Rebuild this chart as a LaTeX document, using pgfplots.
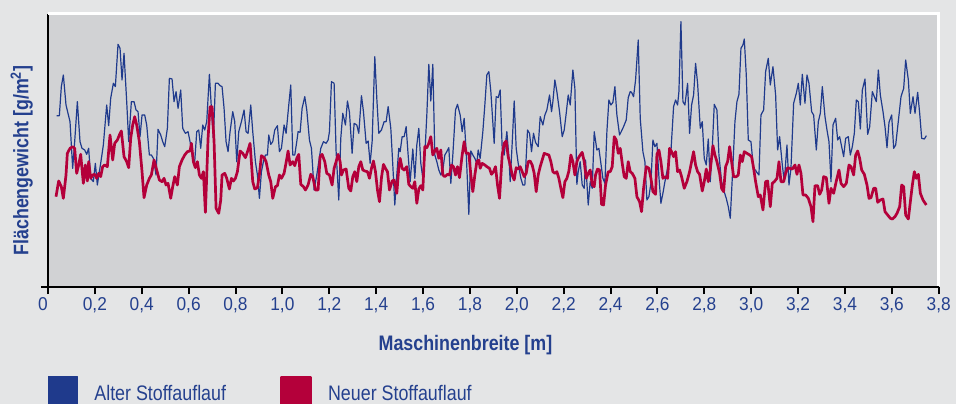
\documentclass[border=0pt]{standalone}
\usepackage{fontspec}
\setmainfont{Liberation Sans}[FakeStretch=0.85]
\newfontfamily\tickfont{Liberation Sans}[FakeStretch=0.93]
\usepackage{pgfplots}
\usepackage{pgfplotstable}
\pgfplotsset{compat=1.18}
\definecolor{bgcol}{HTML}{E4E5E6}
\definecolor{plotcol}{HTML}{D1D2D4}
\definecolor{bluecol}{HTML}{1F3A8C}
\definecolor{redcol}{HTML}{B4003A}
\definecolor{textblue}{HTML}{24408E}
% s = strip index, cx/cy = position read in the strip (3x scale)
\pgfplotstableread{
s cx cy
0 38 302
0 46 302
0 52 215
0 58 180
0 66 270
0 78 320
0 86 460
0 92 380
0 100 260
0 108 380
0 114 400
0 122 405
0 128 418
0 134 400
0 140 490
0 148 500
0 154 445
0 160 510
0 166 470
0 170 445
0 178 390
0 188 270
0 194 332
0 200 250
0 208 205
0 214 215
0 222 88
0 228 100
0 234 195
0 240 115
0 248 260
0 254 380
0 262 260
0 270 260
0 276 285
0 282 290
0 288 365
0 294 300
0 302 300
0 308 330
0 316 420
0 322 420
0 328 430
0 336 480
0 342 343
0 350 360
0 356 380
0 362 395
0 370 340
0 376 190
0 384 192
0 390 260
0 396 230
0 402 280
0 410 225
0 416 340
0 424 355
0 432 350
0 438 380
0 446 430
0 452 440
0 458 350
0 464 345
0 470 400
0 476 330
0 482 345
0 488 320
0 496 178
0 502 280
0 508 370
0 514 205
0 522 205
0 528 212
1 0 215
1 6 280
1 12 380
1 18 410
1 24 350
1 32 290
1 38 320
1 44 440
1 50 350
1 58 320
1 66 285
1 72 350
1 78 355
1 86 270
1 92 350
1 100 440
1 106 480
1 112 550
1 118 470
1 124 440
1 130 420
1 136 420
1 140 360
1 146 388
1 152 380
1 158 345
1 166 332
1 172 410
1 178 400
1 186 330
1 192 355
1 200 270
1 206 210
1 212 420
1 218 420
1 224 380
1 228 350
1 234 352
1 240 280
1 248 245
1 254 285
1 262 375
1 268 400
1 276 525
1 284 480
1 290 440
1 296 400
1 304 380
1 312 385
1 318 375
1 322 350
1 328 200
1 336 205
1 342 410
1 350 555
1 356 370
1 362 295
1 370 330
1 376 258
1 382 292
1 390 415
1 396 325
1 404 330
1 410 355
1 418 242
1 424 290
1 432 385
1 438 378
1 444 445
1 450 380
1 458 125
1 464 250
1 470 355
1 478 345
1 486 320
1 492 320
1 498 275
1 506 340
1 512 450
1 518 570
1 524 480
1 530 400
2 0 410
2 6 365
2 12 365
2 18 335
2 24 420
2 30 500
2 38 402
2 44 490
2 50 390
2 56 340
2 62 445
2 68 490
2 74 420
2 80 300
2 86 148
2 92 258
2 98 148
2 104 420
2 110 440
2 116 465
2 122 480
2 128 465
2 134 420
2 140 410
2 146 398
2 152 505
2 158 420
2 166 285
2 172 268
2 180 300
2 186 350
2 192 310
2 198 410
2 206 598
2 212 408
2 218 420
2 224 430
2 230 445
2 234 405
2 240 430
2 248 350
2 254 270
2 260 180
2 266 170
2 272 230
2 282 385
2 288 245
2 294 248
2 300 225
2 306 400
2 312 420
2 320 350
2 326 425
2 330 500
2 336 385
2 342 258
2 348 400
2 354 445
2 362 490
2 368 510
2 374 510
2 382 345
2 388 355
2 394 410
2 400 355
2 406 382
2 414 395
2 420 305
2 428 330
2 434 300
2 440 285
2 448 240
2 454 290
2 458 260
2 464 195
2 470 230
2 478 290
2 486 365
2 492 345
2 498 295
2 504 240
2 510 270
2 518 165
2 524 220
2 530 508
3 0 470
3 6 440
3 12 510
3 18 520
3 22 435
3 30 570
3 36 500
3 42 520
3 48 350
3 56 405
3 62 400
3 68 445
3 74 490
3 80 505
3 86 350
3 92 255
3 98 270
3 104 262
3 110 215
3 116 300
3 124 360
3 130 348
3 136 335
3 144 315
3 150 248
3 156 230
3 160 232
3 166 245
3 172 195
3 180 75
3 186 310
3 194 410
3 200 440
3 206 555
3 212 545
3 218 505
3 224 375
3 230 395
3 236 385
3 242 485
3 248 565
3 254 535
3 260 500
3 266 470
3 272 435
3 278 410
3 286 275
3 292 255
3 298 270
3 302 230
3 308 20
3 314 260
3 320 270
3 328 205
3 334 355
3 340 270
3 346 240
3 352 145
3 358 205
3 366 340
3 372 320
3 378 430
3 384 450
3 390 372
3 396 500
3 402 400
3 408 268
3 416 285
3 422 420
3 430 500
3 436 525
3 444 550
3 450 575
3 456 610
3 464 450
3 470 320
3 476 260
3 482 238
3 488 100
3 494 90
3 498 72
3 504 180
3 510 375
3 518 380
3 526 465
3 532 465
4 0 470
4 8 480
4 14 300
4 22 285
4 28 170
4 36 130
4 42 210
4 50 155
4 58 240
4 64 405
4 70 365
4 78 450
4 84 500
4 92 390
4 98 510
4 104 460
4 112 265
4 120 235
4 126 205
4 132 270
4 138 178
4 146 265
4 152 180
4 158 205
4 166 290
4 172 300
4 180 405
4 186 320
4 192 295
4 198 215
4 206 305
4 212 345
4 218 380
4 224 500
4 230 330
4 238 310
4 244 375
4 250 365
4 256 395
4 262 425
4 268 370
4 276 365
4 282 420
4 288 395
4 294 355
4 300 255
4 306 260
4 312 342
4 318 225
4 326 192
4 334 358
4 340 335
4 348 230
4 354 245
4 360 260
4 366 165
4 372 240
4 380 290
4 386 335
4 392 398
4 398 322
4 406 300
4 412 400
4 418 390
4 426 318
4 434 245
4 442 220
4 448 135
4 456 195
4 462 295
4 470 245
4 476 295
4 484 232
4 490 295
4 496 370
4 504 372
4 510 362
}\alt
\pgfplotstableread{
s cx cy
0 36 545
0 44 498
0 52 515
0 58 550
0 66 480
0 70 415
0 78 400
0 86 395
0 92 400
0 98 475
0 104 450
0 110 418
0 118 505
0 124 450
0 130 498
0 134 440
0 140 490
0 146 480
0 152 478
0 158 490
0 164 475
0 170 485
0 176 455
0 182 450
0 190 455
0 198 360
0 206 435
0 212 385
0 220 375
0 226 360
0 232 348
0 240 425
0 248 440
0 254 458
0 260 370
0 266 330
0 272 305
0 278 330
0 286 380
0 294 470
0 300 548
0 308 510
0 316 490
0 322 480
0 330 435
0 338 465
0 346 495
0 354 500
0 360 490
0 366 510
0 372 505
0 380 550
0 386 515
0 392 485
0 400 510
0 406 455
0 414 435
0 422 420
0 430 410
0 438 408
0 442 385
0 448 440
0 454 458
0 460 440
0 466 480
0 472 490
0 478 470
0 484 592
0 492 370
0 498 275
0 504 275
0 510 380
0 516 580
0 524 595
0 530 555
1 0 480
1 8 475
1 14 490
1 22 522
1 28 490
1 34 498
1 40 490
1 46 470
1 54 408
1 62 415
1 70 428
1 78 405
1 84 385
1 92 500
1 98 522
1 106 518
1 112 478
1 118 422
1 126 428
1 132 440
1 140 480
1 146 500
1 152 550
1 160 515
1 166 512
1 172 480
1 178 490
1 186 475
1 194 432
1 198 408
1 204 450
1 212 440
1 218 452
1 224 430
1 230 418
1 236 508
1 244 515
1 250 525
1 258 510
1 266 478
1 272 485
1 280 525
1 288 525
1 294 425
1 300 418
1 308 440
1 314 475
1 322 480
1 330 510
1 336 460
1 342 440
1 348 418
1 354 440
1 358 480
1 364 465
1 372 462
1 380 520
1 386 528
1 392 485
1 398 470
1 404 500
1 410 455
1 416 440
1 422 465
1 428 468
1 436 470
1 442 490
1 448 460
1 454 438
1 460 470
1 466 525
1 472 560
1 478 488
1 484 448
1 490 460
1 496 470
1 502 525
1 510 498
1 516 495
1 524 535
1 530 458
2 0 430
2 6 460
2 12 465
2 20 455
2 26 508
2 32 515
2 38 520
2 44 500
2 50 565
2 56 522
2 62 512
2 68 525
2 74 395
2 80 398
2 86 385
2 92 365
2 98 420
2 104 408
2 110 400
2 116 430
2 122 405
2 128 480
2 134 485
2 142 478
2 148 480
2 154 450
2 160 455
2 166 480
2 172 455
2 178 488
2 186 420
2 192 380
2 198 415
2 206 415
2 212 480
2 218 530
2 224 480
2 230 440
2 236 435
2 240 460
2 246 445
2 254 450
2 260 455
2 268 460
2 274 478
2 280 470
2 286 455
2 292 510
2 298 550
2 306 420
2 312 385
2 318 378
2 324 425
2 330 450
2 336 480
2 342 495
2 348 458
2 354 462
2 360 455
2 366 470
2 372 485
2 378 475
2 384 440
2 390 438
2 396 450
2 402 475
2 408 530
2 414 480
2 420 455
2 426 435
2 432 415
2 440 418
2 446 420
2 452 440
2 458 470
2 464 475
2 470 470
2 476 490
2 482 520
2 488 548
2 494 500
2 500 490
2 506 468
2 512 420
2 518 440
2 524 480
2 530 440
3 0 430
3 6 420
3 12 412
3 18 440
3 24 490
3 30 475
3 36 465
3 42 510
3 48 515
3 52 480
3 58 462
3 64 465
3 70 568
3 76 570
3 82 510
3 90 470
3 96 470
3 102 455
3 108 365
3 114 375
3 120 415
3 126 400
3 132 445
3 138 485
3 144 490
3 150 440
3 156 470
3 162 475
3 170 490
3 176 545
3 184 560
3 190 590
3 196 520
3 204 455
3 212 460
3 218 490
3 224 530
3 232 538
3 236 418
3 242 405
3 248 440
3 254 490
3 260 485
3 268 490
3 274 400
3 280 410
3 286 425
3 292 410
3 298 470
3 304 465
3 310 485
3 318 520
3 326 500
3 334 470
3 340 440
3 346 410
3 352 450
3 358 470
3 364 478
3 372 528
3 378 500
3 384 462
3 390 500
3 396 465
3 404 392
3 410 420
3 416 440
3 424 475
3 430 520
3 436 530
3 442 455
3 448 440
3 454 395
3 460 440
3 466 485
3 474 485
3 480 480
3 486 420
3 492 440
3 498 410
3 506 415
3 514 420
3 520 425
3 526 460
3 532 500
4 6 545
4 12 540
4 20 585
4 28 500
4 34 498
4 42 575
4 48 505
4 54 500
4 62 490
4 68 440
4 74 500
4 82 500
4 88 475
4 94 458
4 100 460
4 108 462
4 116 450
4 122 478
4 128 450
4 134 475
4 140 540
4 148 540
4 156 550
4 164 575
4 170 620
4 176 512
4 184 512
4 190 538
4 196 525
4 202 485
4 210 488
4 218 565
4 224 520
4 232 535
4 240 498
4 248 465
4 254 505
4 262 515
4 270 505
4 278 450
4 284 455
4 292 480
4 298 420
4 304 408
4 310 430
4 316 465
4 324 478
4 332 510
4 338 550
4 344 548
4 352 520
4 358 520
4 364 562
4 372 555
4 380 552
4 386 590
4 394 600
4 402 610
4 408 612
4 416 605
4 422 595
4 430 575
4 436 510
4 442 515
4 448 600
4 456 612
4 462 560
4 468 510
4 474 470
4 480 490
4 486 478
4 492 535
4 500 555
4 510 570
}\neu
\begin{document}
\begin{tikzpicture}
\path[use as bounding box] (0,0) rectangle (956bp,404bp);
\fill[bgcol] (0,0) rectangle (956bp,404bp);
\begin{axis}[
  at={(48bp,117bp)}, anchor=south west,
  scale only axis, width=890.7bp, height=273bp,
  xmin=0, xmax=3.8, ymin=0, ymax=273,
  axis background/.style={fill=plotcol},
  axis x line*=bottom, axis y line*=left,
  axis line style={black, line width=2bp},
  xtick={0,0.2,0.4,0.6,0.8,1.0,1.2,1.4,1.6,1.8,2.0,2.2,2.4,2.6,2.8,3.0,3.2,3.4,3.6,3.8},
  xticklabels={{\hspace*{-10bp}0},{0,2},{0,4},{0,6},{0,8},{1,0},{1,2},{1,4},{1,6},{1,8},{2,0},{2,2},{2,4},{2,6},{2,8},{3,0},{3,2},{3,4},{3,6},{3,8}},
  ytick={0}, yticklabels={},
  tick align=outside, major tick length=7bp,
  tick style={black, line width=2bp},
  xticklabel style={font=\tickfont\fontsize{18.6bp}{20bp}\selectfont, text=textblue},
  xlabel={Maschinenbreite [m]},
  xlabel style={at={([yshift=-63bp]rel axis cs:0.4687,0)}, anchor=base, font=\bfseries\fontsize{21bp}{24bp}\selectfont, text=textblue},
  ylabel={Flächengewicht [g/m\textsuperscript{2}]},
  ylabel style={at={([xshift=-19.7bp]rel axis cs:0,0.463)}, anchor=base, font=\bfseries\fontsize{21bp}{24bp}\selectfont, text=textblue},
  legend style={at={(0,-0.3235)}, anchor=north west, draw=none, fill=none, legend columns=2,
    inner xsep=0pt, inner ysep=0pt, column sep=0pt,
    nodes={inner sep=0pt, text depth=0pt, text=textblue, font=\fontsize{21bp}{24bp}\selectfont},
    cells={anchor=base west}},
  legend image code/.code={\fill[#1] (0bp,-20bp) rectangle (29bp,24bp); \path (45bp,0bp);},
  no markers,
  after end axis/.code={\draw[white, line width=3bp] (rel axis cs:0,1) -- (rel axis cs:1,1) -- ([yshift=1.2bp]rel axis cs:1,0);},
]
\addplot[bluecol, line width=1.2bp, line join=round] table[x expr={(\thisrow{s}*178+\thisrow{cx}/3-4)/234.3}, y expr={272-\thisrow{cy}/3}] {\alt};
\addlegendentry{\makebox[186bp][l]{Alter Stoffauflauf}}
\addplot[redcol, line width=2.7bp, line join=round] table[x expr={(\thisrow{s}*178+\thisrow{cx}/3-4)/234.3}, y expr={272-\thisrow{cy}/3}] {\neu};
\addlegendentry{Neuer Stoffauflauf}
\end{axis}
\end{tikzpicture}
\end{document}
